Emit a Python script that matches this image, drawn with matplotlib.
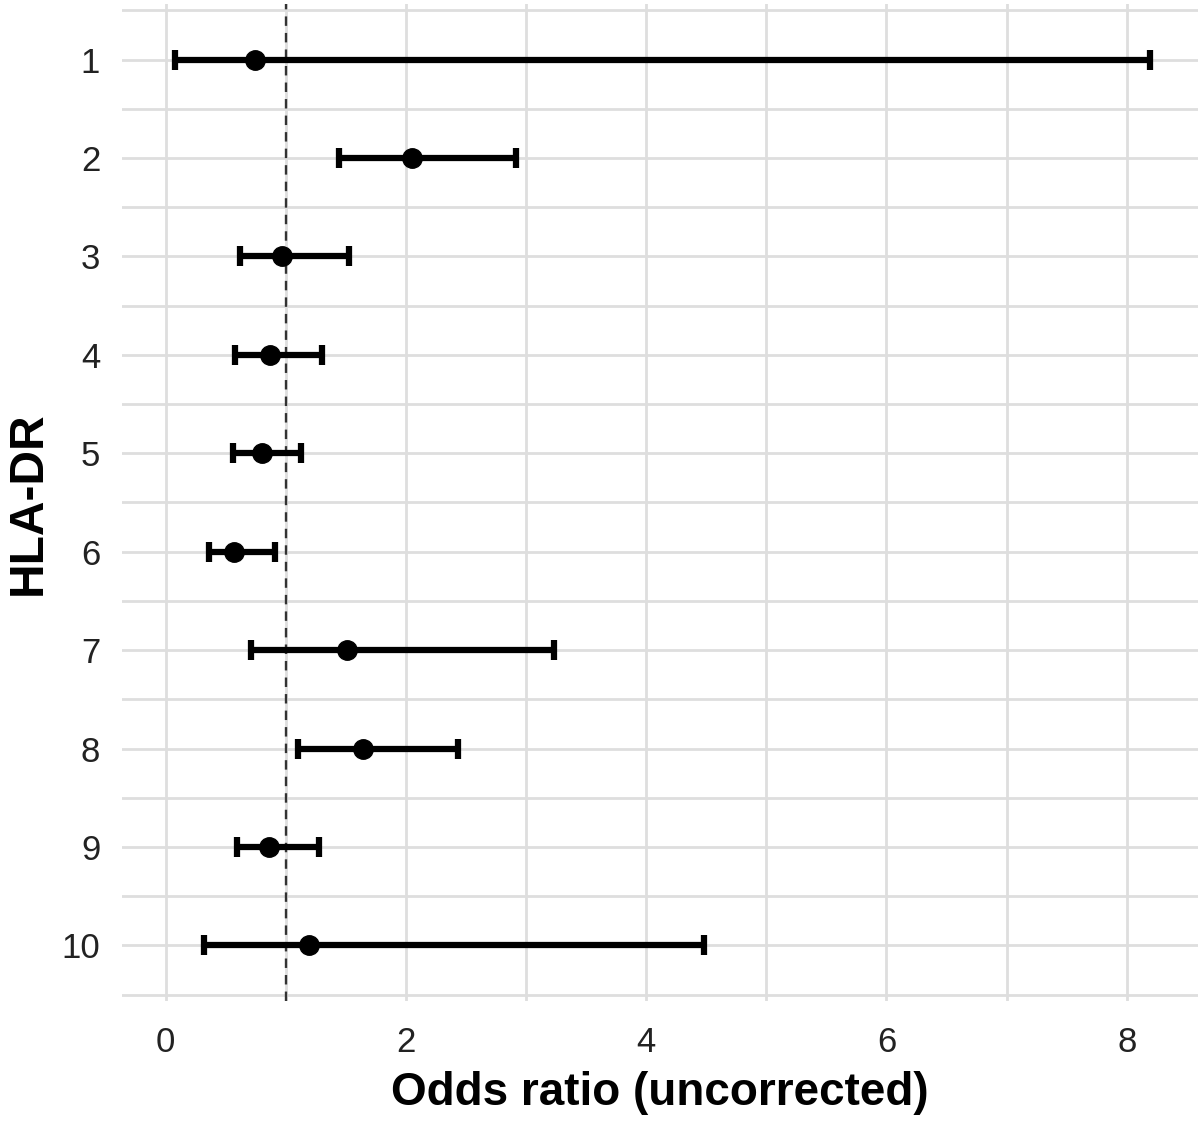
import matplotlib
matplotlib.use("Agg")
from matplotlib import pyplot as plt

# HLA-DR alleles, odds ratio with 95% CI
alleles = [1, 2, 3, 4, 5, 6, 7, 8, 9, 10]
odds = [0.74, 2.05, 0.97, 0.87, 0.80, 0.57, 1.51, 1.64, 0.86, 1.19]
lower = [0.075, 1.44, 0.62, 0.58, 0.56, 0.36, 0.71, 1.10, 0.59, 0.32]
upper = [8.19, 2.92, 1.53, 1.30, 1.13, 0.91, 3.23, 2.43, 1.28, 4.48]

plt.rcParams['font.family'] = ['Liberation Sans', 'DejaVu Sans']

fig = plt.figure(figsize=(12, 11.24), dpi=100)
ax = fig.add_axes([0.102, 0.109, 0.896, 0.887])

err_lo = [o - l for o, l in zip(odds, lower)]
err_hi = [u - o for o, u in zip(odds, upper)]
ax.errorbar(odds, alleles, xerr=[err_lo, err_hi], fmt='o', color='black',
            ecolor='black', elinewidth=4.5, capsize=7, capthick=4.5,
            markersize=14, zorder=3)

ax.axvline(1, color='#333333', linestyle=(0, (4, 3)), linewidth=1.7, zorder=2)

ax.set_xlim(-0.36, 8.59)
ax.set_ylim(10.57, 0.44)
ax.set_xticks([0, 2, 4, 6, 8])
ax.set_xticks([1, 3, 5, 7], minor=True)
ax.set_yticks(alleles)
ax.set_yticks([a + 0.5 for a in [0] + alleles], minor=True)

ax.grid(True, which='both', color='#dedede', linewidth=2)
ax.set_axisbelow(True)
for s in ax.spines.values():
    s.set_visible(False)
ax.tick_params(which='both', length=0)
ax.tick_params(axis='both', labelsize=25, colors='#222222')
ax.tick_params(axis='y', pad=16)
ax.tick_params(axis='x', pad=18)

ax.set_xlabel('Odds ratio (uncorrected)', fontsize=33, fontweight='bold', labelpad=8)
ax.set_ylabel('HLA-DR', fontsize=34.5, fontweight='bold', labelpad=8)

fig.savefig('out.png', dpi=100)
